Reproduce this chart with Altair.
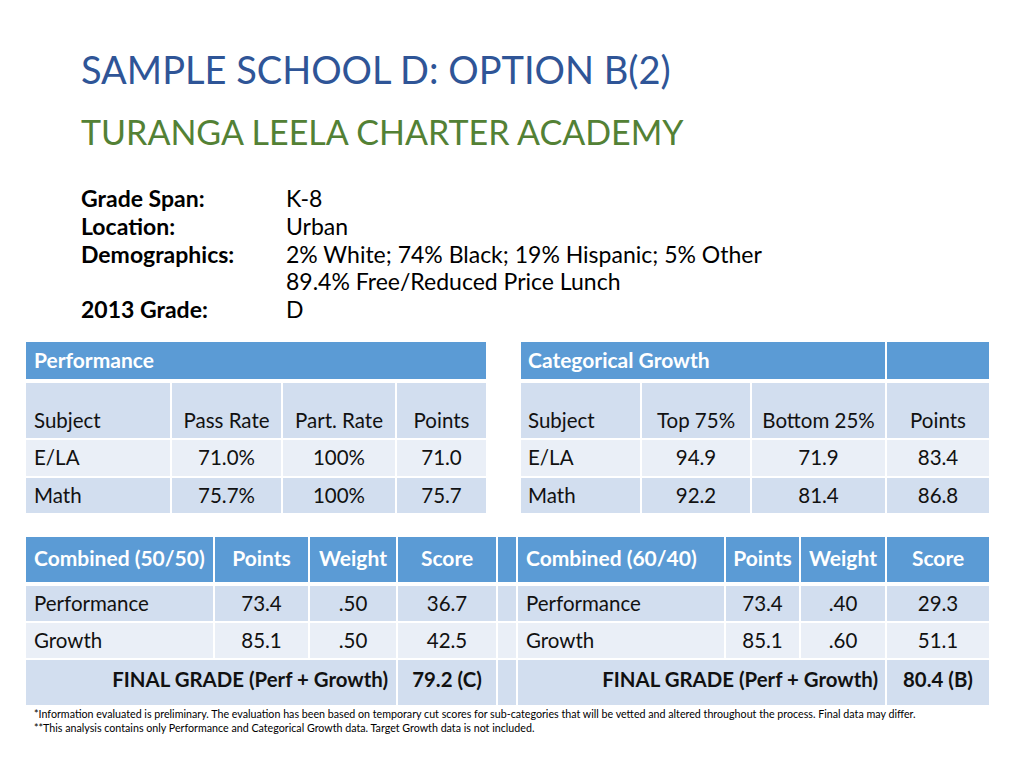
import altair as alt
import pandas as pd

# ---------------- data ----------------
title = "SAMPLE SCHOOL D: OPTION B(2)"
subtitle = "TURANGA LEELA CHARTER ACADEMY"

info_labels = ["Grade Span:", "Location:", "Demographics:", "", "2013 Grade:"]
info_values = ["K-8", "Urban", "2% White; 74% Black; 19% Hispanic; 5% Other",
               "89.4% Free/Reduced Price Lunch", "D"]

perf_title = "Performance"
perf_header = ["Subject", "Pass Rate", "Part. Rate", "Points"]
perf_subjects = ["E/LA", "Math"]
perf_pass_rate = [71.0, 75.7]
perf_part_rate = [100, 100]
perf_points = [71.0, 75.7]

growth_title = "Categorical Growth"
growth_header = ["Subject", "Top 75%", "Bottom 25%", "Points"]
growth_subjects = ["E/LA", "Math"]
growth_top75 = [94.9, 92.2]
growth_bottom25 = [71.9, 81.4]
growth_points = [83.4, 86.8]

comb_header_a = ["Combined (50/50)", "Points", "Weight", "Score"]
comb_header_b = ["Combined (60/40)", "Points", "Weight", "Score"]
comb_rows = ["Performance", "Growth"]
comb_points = [73.4, 85.1]
weights_a = [0.50, 0.50]
scores_a = [36.7, 42.5]
weights_b = [0.40, 0.60]
scores_b = [29.3, 51.1]
final_label = "FINAL GRADE (Perf + Growth)"
final_a = [79.2, "C"]
final_b = [80.4, "B"]

footnotes = [
    "*Information evaluated is preliminary. The evaluation has been based on temporary cut scores for sub-categories that will be vetted and altered throughout the process. Final data may differ.",
    "**This analysis contains only Performance and Categorical Growth data. Target Growth data is not included.",
]

# ---------------- layout (slide grid, px) ----------------
FONT = "Lato"
HEAD = "#5B9BD5"
BAND1 = "#D2DEEF"
BAND2 = "#EAEFF7"
INK = "#111111"

perf_cols = [(26, 170), (172, 281), (283, 395), (397, 486)]
growth_cols = [(521, 640), (642, 750), (752, 885), (887, 989)]
top_head = (342, 379)
top_rows = [(383, 438), (440, 476), (478, 513)]
top_text_y = [422, 459, 496.5]
top_head_text_y = 361.5

comb_cols = [(26, 213), (215, 308), (310, 396), (398, 496), (498, 516),
             (518, 724), (726, 799), (801, 885), (887, 989)]
comb_rows_y = [(537, 582), (586, 621), (623, 658), (660, 705)]
comb_text_y = [560, 604.5, 641.5, 681]

cells = []
texts = []


def cell(x, x2, y, y2, fill):
    cells.append(dict(x=x, x2=x2, y=y, y2=y2, fill=fill))


def txt(t, x, y, size, color=INK, align="left", weight="normal", baseline="middle"):
    texts.append(dict(t=t, x=x, y=y, size=size, color=color, align=align,
                      weight=weight, baseline=baseline))


def cx(c):
    return (c[0] + c[1]) / 2


TS = 20.5   # regular table text
TB = 21.0   # bold table text
TF = 20.4   # bold final-grade text
# --- Performance table
cell(perf_cols[0][0], perf_cols[-1][1], top_head[0], top_head[1], HEAD)
txt(perf_title, perf_cols[0][0] + 8, top_head_text_y, TB, "white", weight="bold")
perf_body = [perf_header] + [
    [s, f"{p:.1f}%", f"{r:.0f}%", f"{pt:.1f}"]
    for s, p, r, pt in zip(perf_subjects, perf_pass_rate, perf_part_rate, perf_points)
]
for ri, row in enumerate(perf_body):
    fill = BAND1 if ri % 2 == 0 else BAND2
    for ci, c in enumerate(perf_cols):
        cell(c[0], c[1], top_rows[ri][0], top_rows[ri][1], fill)
        if ci == 0:
            txt(row[ci], c[0] + 8, top_text_y[ri], TS)
        else:
            txt(row[ci], cx(c), top_text_y[ri], TS, align="center")

# --- Categorical growth table
cell(growth_cols[0][0], growth_cols[2][1], top_head[0], top_head[1], HEAD)
cell(growth_cols[3][0], growth_cols[3][1], top_head[0], top_head[1], HEAD)
txt(growth_title, growth_cols[0][0] + 7, top_head_text_y, TB, "white", weight="bold")
growth_body = [growth_header] + [
    [s, f"{a:.1f}", f"{b:.1f}", f"{p:.1f}"]
    for s, a, b, p in zip(growth_subjects, growth_top75, growth_bottom25, growth_points)
]
for ri, row in enumerate(growth_body):
    fill = BAND1 if ri % 2 == 0 else BAND2
    for ci, c in enumerate(growth_cols):
        cell(c[0], c[1], top_rows[ri][0], top_rows[ri][1], fill)
        if ci == 0:
            txt(row[ci], c[0] + 7, top_text_y[ri], TS)
        else:
            txt(row[ci], cx(c), top_text_y[ri], TS, align="center")


# --- Combined tables
def wfmt(w):
    return f"{w:.2f}".lstrip("0")


body_a = [[r, f"{p:.1f}", wfmt(w), f"{s:.1f}"] for r, p, w, s in zip(comb_rows, comb_points, weights_a, scores_a)]
body_b = [[r, f"{p:.1f}", wfmt(w), f"{s:.1f}"] for r, p, w, s in zip(comb_rows, comb_points, weights_b, scores_b)]

for c in comb_cols:
    cell(c[0], c[1], comb_rows_y[0][0], comb_rows_y[0][1], HEAD)
for half, hdr in ((comb_cols[0:4], comb_header_a), (comb_cols[5:9], comb_header_b)):
    for ci, c in enumerate(half):
        if ci == 0:
            txt(hdr[ci], c[0] + 8, comb_text_y[0], TB, "white", weight="bold")
        else:
            txt(hdr[ci], cx(c), comb_text_y[0], TB, "white", align="center", weight="bold")

for ri in range(2):
    fill = BAND1 if ri % 2 == 0 else BAND2
    y0, y1 = comb_rows_y[ri + 1]
    for c in comb_cols:
        cell(c[0], c[1], y0, y1, fill)
    for half, body in ((comb_cols[0:4], body_a), (comb_cols[5:9], body_b)):
        for ci, c in enumerate(half):
            if ci == 0:
                txt(body[ri][ci], c[0] + 8, comb_text_y[ri + 1], TS)
            else:
                txt(body[ri][ci], cx(c), comb_text_y[ri + 1], TS, align="center")

y0, y1 = comb_rows_y[3]
cell(comb_cols[0][0], comb_cols[2][1], y0, y1, BAND1)
cell(comb_cols[3][0], comb_cols[3][1], y0, y1, BAND1)
cell(comb_cols[4][0], comb_cols[4][1], y0, y1, BAND1)
cell(comb_cols[5][0], comb_cols[7][1], y0, y1, BAND1)
cell(comb_cols[8][0], comb_cols[8][1], y0, y1, BAND1)
txt(final_label, comb_cols[2][1] - 8, comb_text_y[3], TF, align="right", weight="bold")
txt(f"{final_a[0]:.1f} ({final_a[1]})", cx(comb_cols[3]), comb_text_y[3], TF, align="center", weight="bold")
txt(final_label, comb_cols[7][1] - 7, comb_text_y[3], TF, align="right", weight="bold")
txt(f"{final_b[0]:.1f} ({final_b[1]})", cx(comb_cols[8]), comb_text_y[3], TF, align="center", weight="bold")

# --- Title block
txt(title, 81, 84, 38, "#2F5597", baseline="alphabetic")
txt(subtitle, 81, 145, 34, "#538135", baseline="alphabetic")
info_y = [200, 228, 256, 283, 311]
for lab, val, y in zip(info_labels, info_values, info_y):
    if lab:
        txt(lab, 81, y, 23, "#000000", weight="bold")
    txt(val, 286, y, 23, "#000000")

# --- Footnotes
for fn, y in zip(footnotes, [715, 729]):
    txt(fn, 34, y, 10.7, "#000000")

cells_df = pd.DataFrame(cells)
texts_df = pd.DataFrame(texts)

xs = alt.Scale(domain=[8, 1016], range=[0, 1008], nice=False, zero=False)
ys = alt.Scale(domain=[8, 760], range=[0, 752], nice=False, zero=False)

layers = []
for fill, sub in cells_df.groupby("fill"):
    layers.append(
        alt.Chart(sub.drop(columns=["fill"])).mark_rect(color=fill, strokeWidth=0).encode(
            x=alt.X("x:Q", scale=xs, axis=None),
            x2="x2:Q",
            y=alt.Y("y:Q", scale=ys, axis=None),
            y2="y2:Q",
        )
    )

for (align, weight, baseline, size, color), sub in texts_df.groupby(
        ["align", "weight", "baseline", "size", "color"]):
    layers.append(
        alt.Chart(sub[["t", "x", "y"]]).mark_text(
            align=align, baseline=baseline, font=FONT, fontWeight=weight,
            fontSize=float(size), color=color,
        ).encode(
            x=alt.X("x:Q", scale=xs, axis=None),
            y=alt.Y("y:Q", scale=ys, axis=None),
            text="t:N",
        )
    )

chart = alt.layer(*layers).properties(
    width=1008, height=752, padding=0,
    autosize=alt.AutoSizeParams(type="none"),
).configure(background="white").configure_view(stroke=None)

chart.save("out.html", embed_options={"renderer": "svg", "actions": False})
